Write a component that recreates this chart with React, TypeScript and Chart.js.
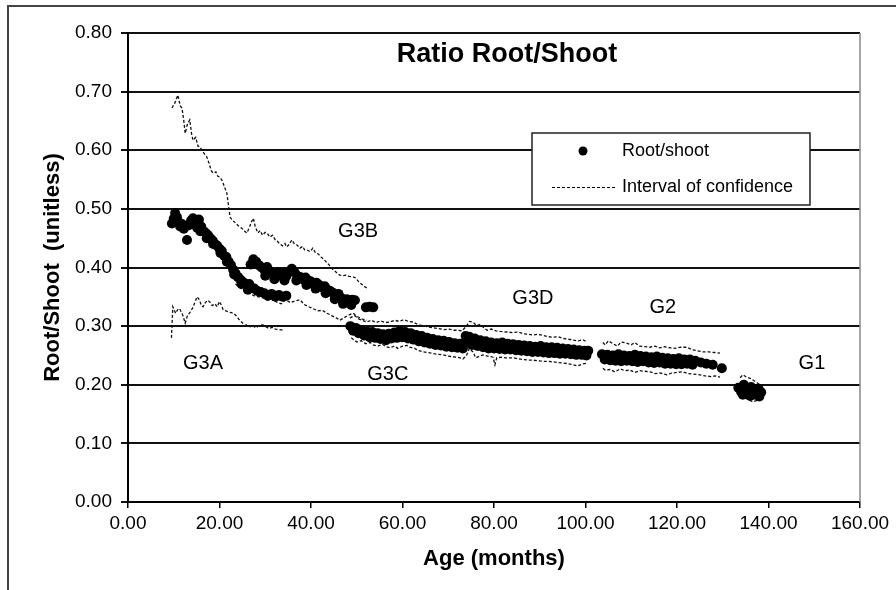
import React, { useEffect, useRef } from "react";
import { Chart, registerables } from "chart.js";

Chart.register(...registerables);

// ---------- Data (age in months, root/shoot ratio) ----------
const g3aPoints: [number, number][] = [
  [9.6, 0.475], [10.0, 0.483], [10.3, 0.493], [10.7, 0.486], [11.0, 0.478], [11.4, 0.470],
  [11.8, 0.474], [12.2, 0.466], [12.9, 0.447], [13.3, 0.472], [13.8, 0.480], [14.2, 0.484],
  [14.7, 0.476], [15.1, 0.468], [15.5, 0.482], [16.0, 0.470], [16.5, 0.462], [17.0, 0.459],
  [17.5, 0.455], [18.0, 0.450], [18.5, 0.446], [19.0, 0.440], [19.5, 0.437], [20.0, 0.432],
  [20.5, 0.428], [21.0, 0.420], [21.5, 0.418], [22.0, 0.410], [22.5, 0.404], [23.0, 0.396],
  [23.5, 0.390], [24.0, 0.384], [24.5, 0.380], [25.0, 0.376], [25.5, 0.373], [26.0, 0.370],
  [26.5, 0.372], [27.0, 0.366], [27.6, 0.364], [28.3, 0.360], [29.0, 0.358], [29.8, 0.356],
  [30.6, 0.352], [31.4, 0.355], [32.2, 0.350], [33.0, 0.353], [33.8, 0.350], [34.6, 0.352],
  [15.8, 0.462], [17.2, 0.450], [18.6, 0.440], [20.2, 0.425], [21.6, 0.410], [23.2, 0.388],
  [24.8, 0.372], [26.2, 0.362],
];

const g3bPoints: [number, number][] = [
  [26.8, 0.405], [27.4, 0.414], [28.0, 0.410], [28.6, 0.404], [29.2, 0.400], [29.8, 0.396],
  [30.4, 0.401], [31.0, 0.394], [31.6, 0.390], [32.2, 0.388], [32.8, 0.392], [33.4, 0.386],
  [34.0, 0.390], [34.6, 0.385], [35.2, 0.392], [35.8, 0.398], [36.4, 0.392], [37.0, 0.386],
  [37.6, 0.384], [38.2, 0.380], [38.8, 0.383], [39.4, 0.378], [40.0, 0.376], [40.6, 0.372],
  [41.2, 0.374], [41.8, 0.370], [42.4, 0.366], [43.0, 0.368], [43.6, 0.362], [44.2, 0.360],
  [44.8, 0.357], [45.4, 0.352], [46.0, 0.355], [46.6, 0.348], [47.2, 0.344], [47.8, 0.346],
  [48.4, 0.342], [49.0, 0.345], [49.6, 0.344], [52.0, 0.332], [52.8, 0.333], [53.6, 0.332],
  [30.0, 0.386], [32.0, 0.380], [34.2, 0.378], [36.8, 0.378], [39.0, 0.370], [41.0, 0.364],
  [43.2, 0.356], [45.2, 0.346], [47.0, 0.338], [48.8, 0.336],
];

const g3cdPoints: [number, number][] = [
  [48.6, 0.300], [49.8, 0.297], [51.0, 0.293], [52.2, 0.291], [53.4, 0.290], [54.6, 0.288],
  [55.8, 0.286], [57.0, 0.287], [58.2, 0.289], [59.4, 0.292], [60.6, 0.290], [61.8, 0.288],
  [63.0, 0.285], [64.2, 0.283], [65.4, 0.280], [66.6, 0.278], [67.8, 0.276], [69.0, 0.275],
  [70.2, 0.273], [71.4, 0.271], [72.6, 0.270], [73.8, 0.283], [74.6, 0.282], [75.8, 0.279],
  [77.0, 0.276], [78.2, 0.274], [79.4, 0.272], [80.6, 0.271], [81.8, 0.272], [83.0, 0.270],
  [84.2, 0.269], [85.4, 0.268], [86.6, 0.267], [87.8, 0.266], [89.0, 0.265], [90.2, 0.266],
  [91.4, 0.264], [92.6, 0.264], [93.8, 0.263], [95.0, 0.262], [96.2, 0.261], [97.4, 0.260],
  [98.6, 0.259], [99.8, 0.258], [100.6, 0.258],
  [49.2, 0.292], [50.4, 0.288], [51.6, 0.284], [52.8, 0.281], [54.0, 0.280], [55.2, 0.278],
  [56.4, 0.276], [57.6, 0.279], [58.8, 0.280], [60.0, 0.281], [61.2, 0.279], [62.4, 0.277],
  [63.6, 0.274], [64.8, 0.272], [66.0, 0.270], [67.2, 0.268], [68.4, 0.267], [69.6, 0.265],
  [70.8, 0.264], [72.0, 0.263], [73.2, 0.262], [74.2, 0.272], [75.2, 0.268], [76.4, 0.266],
  [77.6, 0.264], [78.8, 0.262], [80.0, 0.262], [81.2, 0.261], [82.4, 0.260], [83.6, 0.260],
  [84.8, 0.259], [86.0, 0.258], [87.2, 0.257], [88.4, 0.256], [89.6, 0.256], [90.8, 0.255],
  [92.0, 0.254], [93.2, 0.254], [94.4, 0.253], [95.6, 0.253], [96.8, 0.252], [98.0, 0.251],
  [99.2, 0.251], [100.2, 0.250],
];

const g2Points: [number, number][] = [
  [103.6, 0.252], [104.8, 0.251], [106.0, 0.250], [107.2, 0.252], [108.4, 0.250], [109.6, 0.249],
  [110.8, 0.251], [112.0, 0.249], [113.2, 0.248], [114.4, 0.247], [115.6, 0.248], [116.8, 0.246],
  [118.0, 0.245], [119.2, 0.244], [120.4, 0.245], [121.6, 0.243], [122.8, 0.243], [124.0, 0.241],
  [104.2, 0.243], [105.4, 0.242], [106.6, 0.241], [107.8, 0.240], [109.0, 0.241], [110.2, 0.240],
  [111.4, 0.239], [112.6, 0.240], [113.8, 0.238], [115.0, 0.237], [116.2, 0.238], [117.4, 0.236],
  [118.6, 0.236], [119.8, 0.235], [121.0, 0.235], [122.2, 0.236], [123.4, 0.234],
  [125.2, 0.238], [126.4, 0.236], [127.8, 0.234], [129.8, 0.228],
];

const g1Points: [number, number][] = [
  [133.4, 0.195], [134.0, 0.188], [134.6, 0.200], [135.0, 0.192], [135.6, 0.186], [136.2, 0.196],
  [136.8, 0.189], [137.2, 0.183], [137.8, 0.193], [138.4, 0.187], [134.4, 0.183], [136.0, 0.181],
  [138.0, 0.180],
];

// Confidence interval segments (dashed)
const ciUpperG3AB: [number, number][] = [
  [9.6, 0.672], [10.2, 0.680], [10.9, 0.694], [11.4, 0.676], [11.8, 0.672], [12.2, 0.650],
  [12.5, 0.629], [13.0, 0.645], [13.5, 0.652], [13.9, 0.628], [14.2, 0.617], [14.8, 0.622],
  [15.3, 0.607], [15.7, 0.606], [16.3, 0.598], [16.8, 0.593], [17.2, 0.589], [17.7, 0.578],
  [18.2, 0.565], [18.6, 0.561], [19.2, 0.563], [19.6, 0.556], [20.1, 0.554], [20.6, 0.548],
  [21.1, 0.537], [21.6, 0.527], [21.9, 0.510], [22.3, 0.486], [22.9, 0.480], [23.5, 0.476],
  [24.0, 0.472], [24.5, 0.469], [25.0, 0.466], [25.5, 0.462], [26.0, 0.459], [26.6, 0.470],
  [27.0, 0.478], [27.4, 0.484], [27.8, 0.470], [28.4, 0.459], [28.9, 0.463], [29.4, 0.455],
  [30.0, 0.460], [30.4, 0.459], [31.0, 0.452], [31.6, 0.455], [32.2, 0.447], [32.6, 0.445],
  [33.2, 0.440], [33.8, 0.437], [34.3, 0.441], [34.7, 0.435], [35.3, 0.440], [35.8, 0.447],
  [36.4, 0.440], [37.0, 0.438], [37.6, 0.433], [38.2, 0.436], [38.6, 0.430], [39.1, 0.430],
  [39.8, 0.427], [40.4, 0.433], [41.0, 0.425], [41.6, 0.423], [42.2, 0.418], [42.8, 0.414],
  [43.5, 0.408], [44.0, 0.404], [44.6, 0.398], [45.2, 0.394], [45.8, 0.390], [46.3, 0.387],
  [46.9, 0.386], [47.6, 0.387], [48.3, 0.385], [49.2, 0.384], [49.8, 0.382], [50.4, 0.376],
  [51.0, 0.372], [51.6, 0.368], [52.2, 0.365],
];

const ciLowerG3A: [number, number][] = [
  [9.5, 0.280], [9.6, 0.300], [9.8, 0.333], [10.4, 0.322], [11.0, 0.330], [11.4, 0.328],
  [12.0, 0.318], [12.5, 0.305], [13.0, 0.318], [13.6, 0.324], [14.2, 0.332], [14.7, 0.342],
  [15.1, 0.350], [15.6, 0.345], [16.0, 0.336], [16.4, 0.333], [16.9, 0.340], [17.4, 0.344],
  [17.9, 0.341], [18.4, 0.335], [19.0, 0.338], [19.5, 0.333], [20.0, 0.342], [20.4, 0.336],
  [20.8, 0.328], [21.4, 0.326], [22.0, 0.324], [22.6, 0.323], [23.0, 0.322], [23.6, 0.318],
  [24.2, 0.312], [24.7, 0.308], [25.1, 0.305], [25.6, 0.301], [26.2, 0.303], [26.7, 0.299],
  [27.3, 0.301], [27.9, 0.297], [28.5, 0.300], [29.0, 0.302], [29.5, 0.302], [30.1, 0.299],
  [30.8, 0.296], [31.5, 0.298], [32.2, 0.295], [33.0, 0.294], [33.9, 0.293],
];

const ciLowerG3B: [number, number][] = [
  [23.5, 0.372], [24.5, 0.365], [25.5, 0.360], [26.5, 0.356], [27.5, 0.352], [28.5, 0.350],
  [29.5, 0.348], [30.5, 0.344], [31.5, 0.347], [32.5, 0.341], [33.5, 0.338], [34.5, 0.345],
  [35.5, 0.340], [36.5, 0.343], [37.6, 0.345], [38.5, 0.337], [39.5, 0.333], [40.4, 0.330],
  [41.5, 0.326], [42.5, 0.327], [43.5, 0.322], [44.5, 0.318], [45.5, 0.314], [46.3, 0.310],
  [47.2, 0.314], [48.0, 0.318], [49.2, 0.322], [50.2, 0.316], [51.2, 0.312], [52.2, 0.310],
];

const ciUpperG3CD: [number, number][] = [
  [48.5, 0.314], [49.5, 0.318], [50.5, 0.312], [51.5, 0.309], [52.2, 0.307], [53.2, 0.310],
  [54.2, 0.306], [55.2, 0.309], [56.2, 0.306], [57.3, 0.307], [58.3, 0.310], [59.3, 0.308],
  [60.3, 0.311], [61.3, 0.308], [62.3, 0.307], [63.3, 0.303], [64.3, 0.301], [65.5, 0.299],
  [66.7, 0.297], [67.9, 0.296], [69.0, 0.294], [70.2, 0.295], [71.2, 0.293], [71.9, 0.293],
  [73.0, 0.292], [74.0, 0.300], [74.6, 0.308], [75.4, 0.307], [76.2, 0.301], [77.0, 0.303],
  [77.8, 0.297], [78.5, 0.293], [79.4, 0.295], [80.4, 0.292], [81.4, 0.291], [82.8, 0.290],
  [84.0, 0.289], [85.2, 0.290], [86.4, 0.287], [87.6, 0.286], [88.5, 0.285], [89.6, 0.286],
  [90.8, 0.284], [91.8, 0.282], [92.9, 0.281], [94.0, 0.282], [95.0, 0.279], [96.2, 0.278],
  [97.3, 0.276], [98.4, 0.275], [99.4, 0.277], [100.3, 0.273],
];

const ciLowerG3CD: [number, number][] = [
  [48.8, 0.280], [50.0, 0.273], [51.0, 0.275], [52.0, 0.270], [53.0, 0.272], [53.6, 0.268],
  [54.6, 0.266], [55.6, 0.269], [56.4, 0.265], [57.3, 0.263], [58.2, 0.266], [59.0, 0.262],
  [60.0, 0.266], [61.0, 0.267], [61.6, 0.264], [62.6, 0.262], [63.6, 0.258], [64.5, 0.256],
  [65.6, 0.255], [66.8, 0.253], [67.8, 0.252], [68.9, 0.251], [69.8, 0.249], [70.8, 0.248],
  [71.8, 0.247], [72.6, 0.246], [73.2, 0.244], [74.0, 0.250], [74.6, 0.262], [75.4, 0.256],
  [76.0, 0.246], [77.6, 0.251], [78.6, 0.249], [79.8, 0.247], [80.2, 0.234], [80.6, 0.246],
  [81.6, 0.247], [82.6, 0.246], [84.2, 0.246], [85.4, 0.244], [86.6, 0.243], [87.6, 0.242],
  [88.5, 0.242], [89.6, 0.241], [90.8, 0.240], [91.8, 0.240], [92.9, 0.239], [94.0, 0.238],
  [95.0, 0.237], [96.2, 0.236], [97.3, 0.234], [98.2, 0.232], [99.2, 0.235], [100.3, 0.237],
];

const ciUpperG2: [number, number][] = [
  [103.8, 0.272], [104.3, 0.268], [105.0, 0.275], [106.0, 0.270], [107.0, 0.266], [107.8, 0.273],
  [109.0, 0.271], [110.0, 0.268], [110.8, 0.272], [111.8, 0.266], [112.8, 0.265], [114.1, 0.264],
  [115.2, 0.266], [116.2, 0.263], [117.2, 0.265], [118.5, 0.263], [119.6, 0.262], [120.8, 0.264],
  [122.2, 0.264], [123.2, 0.260], [124.4, 0.258], [125.7, 0.256], [127.0, 0.256], [128.2, 0.255],
  [129.4, 0.254],
];

const ciLowerG2: [number, number][] = [
  [103.8, 0.228], [104.3, 0.225], [105.4, 0.226], [106.4, 0.222], [107.6, 0.227], [108.6, 0.224],
  [109.7, 0.225], [110.8, 0.221], [111.8, 0.224], [113.0, 0.223], [114.1, 0.222], [115.2, 0.219],
  [116.4, 0.220], [117.8, 0.217], [118.8, 0.220], [120.0, 0.221], [121.3, 0.222], [122.4, 0.219],
  [123.6, 0.218], [125.0, 0.217], [126.2, 0.215], [127.4, 0.214], [128.4, 0.215], [129.4, 0.213],
];

const ciUpperG1: [number, number][] = [
  [133.8, 0.212], [134.4, 0.217], [135.2, 0.213], [136.0, 0.211], [137.0, 0.206], [138.1, 0.200],
];

const ciLowerG1: [number, number][] = [
  [134.0, 0.182], [134.4, 0.179], [135.4, 0.176], [136.0, 0.173], [136.6, 0.171], [137.7, 0.174],
  [138.2, 0.176],
];

// Group labels placed in data coordinates
const groupNames = ["G3A", "G3B", "G3C", "G3D", "G2", "G1"];
const groupLabelAge = [16.4, 50.3, 56.8, 88.5, 116.9, 149.5];
const groupLabelRatio = [0.237, 0.461, 0.217, 0.348, 0.331, 0.237];

const chartTitle = "Ratio Root/Shoot";
const xTitle = "Age (months)";
const yTitle = "Root/Shoot  (unitless)";
const seriesName = "Root/shoot";
const ciName = "Interval of confidence";

const FONT = "'Liberation Sans', Arial, Helvetica, sans-serif";

const toXY = (pts: [number, number][]) => pts.map(([x, y]) => ({ x, y }));

const decorPlugin = {
  id: "decor",
  beforeDraw(chart: any) {
    const ctx = chart.ctx;
    ctx.save();
    ctx.fillStyle = "#fff";
    ctx.fillRect(0, 0, chart.width, chart.height);
    ctx.strokeStyle = "#444";
    ctx.lineWidth = 2;
    ctx.beginPath();
    ctx.moveTo(8, chart.height + 5);
    ctx.lineTo(8, 6);
    ctx.lineTo(chart.width + 5, 6);
    ctx.stroke();
    ctx.restore();
  },
  afterDraw(chart: any) {
    const { ctx, chartArea: a, scales } = chart;
    ctx.save();
    // right plot border
    ctx.strokeStyle = "#888";
    ctx.lineWidth = 1.5;
    ctx.beginPath();
    ctx.moveTo(a.right, a.top);
    ctx.lineTo(a.right, a.bottom);
    ctx.stroke();

    // title
    ctx.fillStyle = "#000";
    ctx.textAlign = "center";
    ctx.textBaseline = "middle";
    ctx.font = `bold 27px ${FONT}`;
    ctx.fillText(chartTitle, (a.left + a.right) / 2 + 13, a.top + 22);

    // group labels
    ctx.font = `20px ${FONT}`;
    groupNames.forEach((n, i) => {
      ctx.fillText(
        n,
        scales.x.getPixelForValue(groupLabelAge[i]),
        scales.y.getPixelForValue(groupLabelRatio[i])
      );
    });

    // legend box
    const bx = a.right - 328;
    const by = a.top + 100;
    const bw = 278;
    const bh = 72;
    ctx.fillStyle = "#fff";
    ctx.fillRect(bx, by, bw, bh);
    ctx.strokeStyle = "#222";
    ctx.lineWidth = 1.5;
    ctx.strokeRect(bx, by, bw, bh);

    ctx.fillStyle = "#000";
    ctx.beginPath();
    ctx.arc(bx + 51, by + 18, 4.5, 0, Math.PI * 2);
    ctx.fill();

    ctx.strokeStyle = "#000";
    ctx.lineWidth = 1.2;
    ctx.setLineDash([3, 2]);
    ctx.beginPath();
    ctx.moveTo(bx + 20, by + 54.5);
    ctx.lineTo(bx + 83, by + 54.5);
    ctx.stroke();
    ctx.setLineDash([]);

    ctx.textAlign = "left";
    ctx.font = `18px ${FONT}`;
    ctx.fillText(seriesName, bx + 90, by + 18);
    ctx.fillText(ciName, bx + 90, by + 54);
    ctx.restore();
  },
};

const ciDataset = (pts: [number, number][], label: string) => ({
  type: "scatter" as const,
  label,
  data: toXY(pts),
  showLine: true,
  borderColor: "#111",
  borderWidth: 1.3,
  borderDash: [3, 2],
  pointRadius: 0,
  fill: false,
  tension: 0,
});

export default function App() {
  const ref = useRef<HTMLCanvasElement>(null);

  useEffect(() => {
    if (!ref.current) return;
    const allPoints = [...g3aPoints, ...g3bPoints, ...g3cdPoints, ...g2Points, ...g1Points];
    const chart = new Chart(ref.current, {
      type: "scatter",
      data: {
        datasets: [
          {
            label: seriesName,
            data: toXY(allPoints),
            backgroundColor: "#000",
            borderColor: "#000",
            borderWidth: 0,
            pointRadius: 5,
            pointHoverRadius: 5,
          },
          ciDataset(ciUpperG3AB, ciName),
          ciDataset(ciLowerG3A, ciName),
          ciDataset(ciLowerG3B, ciName),
          ciDataset(ciUpperG3CD, ciName),
          ciDataset(ciLowerG3CD, ciName),
          ciDataset(ciUpperG2, ciName),
          ciDataset(ciLowerG2, ciName),
          ciDataset(ciUpperG1, ciName),
          ciDataset(ciLowerG1, ciName),
        ] as any,
      },
      options: {
        responsive: false,
        animation: false,
        devicePixelRatio: 1,
        layout: { padding: { left: 0, top: 33, right: 36, bottom: 0 } },
        plugins: {
          legend: { display: false },
          title: { display: false },
          tooltip: { enabled: false },
        },
        scales: {
          x: {
            type: "linear",
            min: 0,
            max: 160,
            ticks: {
              stepSize: 20,
              autoSkip: false,
              maxRotation: 0,
              padding: 4,
              color: "#000",
              font: { family: FONT, size: 19 },
              callback: (v: any) => Number(v).toFixed(2),
            },
            grid: {
              drawOnChartArea: false,
              drawTicks: true,
              tickLength: 6,
              color: "#000",
              lineWidth: 1.5,
            },
            border: { color: "#000", width: 2 },
            title: {
              display: true,
              text: xTitle,
              color: "#000",
              font: { family: FONT, size: 22, weight: "bold" },
              padding: { top: 0, bottom: 18 },
            },
            afterFit: (s: any) => {
              s.height = 88;
            },
          },
          y: {
            type: "linear",
            min: 0,
            max: 0.8,
            ticks: {
              stepSize: 0.1,
              padding: 9,
              color: "#000",
              font: { family: FONT, size: 19 },
              callback: (v: any) => Number(v).toFixed(2),
            },
            grid: {
              color: "#111",
              lineWidth: 2,
              tickLength: 7,
            },
            border: { color: "#000", width: 2 },
            title: {
              display: true,
              text: yTitle,
              color: "#000",
              font: { family: FONT, size: 22, weight: "bold" },
              padding: { top: 40, bottom: 0 },
            },
            afterFit: (s: any) => {
              s.width = 128;
            },
          },
        },
      } as any,
      plugins: [decorPlugin],
    });
    return () => chart.destroy();
  }, []);

  return (
    <div style={{ position: "absolute", left: 0, top: 0, width: 896, height: 590 }}>
      <canvas
        ref={ref}
        width={896}
        height={590}
        style={{ display: "block", width: 896, height: 590 }}
      />
    </div>
  );
}
